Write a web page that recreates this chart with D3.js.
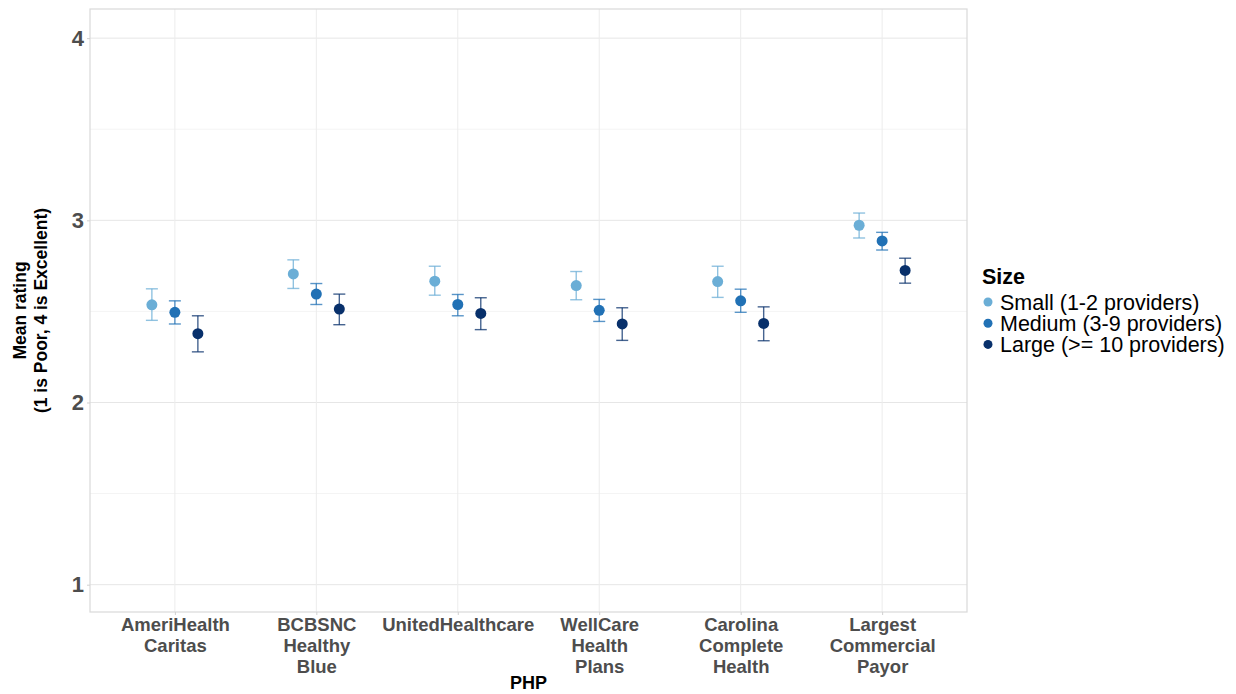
<!DOCTYPE html>
<html>
<head>
<meta charset="utf-8">
<script src="https://d3js.org/d3.v7.min.js"></script>
<style>
  body { margin: 0; background: #fff; }
  svg { font-family: "Liberation Sans", Arial, sans-serif; }
</style>
</head>
<body>
<svg id="chart" width="1236" height="694"></svg>
<script>
// data
var phps = ["AmeriHealth\nCaritas", "BCBSNC\nHealthy\nBlue", "UnitedHealthcare",
            "WellCare\nHealth\nPlans", "Carolina\nComplete\nHealth", "Largest\nCommercial\nPayor"];
var sizes = ["Small (1-2 providers)", "Medium (3-9 providers)", "Large (>= 10 providers)"];
var sizeColors = ["#6baed6", "#2171b5", "#08306b"];
var yTicks = [1, 2, 3, 4];

var smallMean  = [2.536, 2.706, 2.666, 2.642, 2.664, 2.973];
var smallLow   = [2.451, 2.626, 2.589, 2.564, 2.577, 2.903];
var smallHigh  = [2.624, 2.783, 2.748, 2.719, 2.748, 3.040];
var mediumMean = [2.495, 2.595, 2.538, 2.506, 2.558, 2.887];
var mediumLow  = [2.431, 2.538, 2.476, 2.445, 2.495, 2.837];
var mediumHigh = [2.558, 2.653, 2.593, 2.566, 2.622, 2.934];
var largeMean  = [2.378, 2.513, 2.489, 2.431, 2.434, 2.725];
var largeLow   = [2.278, 2.427, 2.400, 2.341, 2.339, 2.655];
var largeHigh  = [2.476, 2.595, 2.575, 2.520, 2.525, 2.792];

var means = [smallMean, mediumMean, largeMean];
var lows = [smallLow, mediumLow, largeLow];
var highs = [smallHigh, mediumHigh, largeHigh];

var rows = [];
sizes.forEach(function (s, si) {
  phps.forEach(function (p, pi) {
    rows.push({ php: p, size: s, si: si, mean: means[si][pi], lo: lows[si][pi], hi: highs[si][pi] });
  });
});

var svg = d3.select("#chart");
var pLeft = 90, pRight = 967, pTop = 9, pBottom = 612;

var x = d3.scalePoint().domain(phps).range([pLeft, pRight]).padding(0.6);
var dodge = d3.scaleBand().domain(sizes).range([-23 * 1.5, 23 * 1.5]).padding(0);
var y = d3.scaleLinear().domain([0.85, 4.16]).range([pBottom, pTop]);
var color = d3.scaleOrdinal().domain(sizes).range(sizeColors);

function dx(d) { return x(d.php) + dodge(d.size) + dodge.bandwidth() / 2; }

// minor gridlines
svg.append("g").selectAll("line")
  .data([1.5, 2.5, 3.5])
  .join("line")
  .attr("x1", pLeft).attr("x2", pRight)
  .attr("y1", function (d) { return y(d); }).attr("y2", function (d) { return y(d); })
  .attr("stroke", "#f4f4f4").attr("stroke-width", 1);

// major gridlines
svg.append("g").selectAll("line")
  .data(yTicks)
  .join("line")
  .attr("x1", pLeft).attr("x2", pRight)
  .attr("y1", function (d) { return y(d); }).attr("y2", function (d) { return y(d); })
  .attr("stroke", "#e6e6e6").attr("stroke-width", 1);

svg.append("g").selectAll("line")
  .data(phps)
  .join("line")
  .attr("x1", function (d) { return x(d); }).attr("x2", function (d) { return x(d); })
  .attr("y1", pTop).attr("y2", pBottom)
  .attr("stroke", "#ececec").attr("stroke-width", 1);

// panel border
svg.append("rect")
  .attr("x", pLeft).attr("y", pTop)
  .attr("width", pRight - pLeft).attr("height", pBottom - pTop)
  .attr("fill", "none").attr("stroke", "#d9d9d9").attr("stroke-width", 1.2);

// y axis
var yAxis = svg.append("g")
  .attr("transform", "translate(" + pLeft + ",0)")
  .call(d3.axisLeft(y).tickValues(yTicks).tickFormat(d3.format("d")).tickSize(3).tickPadding(3));
yAxis.select(".domain").remove();
yAxis.selectAll(".tick line").attr("stroke", "#d0d0d0");
yAxis.selectAll("text")
  .attr("fill", "#4d4d4d").style("font-size", "22px").style("font-weight", "bold");

// x axis, multi-line labels
var xAxis = svg.append("g")
  .attr("transform", "translate(0," + pBottom + ")")
  .call(d3.axisBottom(x).tickSize(3).tickFormat(""));
xAxis.select(".domain").remove();
xAxis.selectAll(".tick line").attr("stroke", "#d0d0d0");
xAxis.selectAll(".tick").append("text")
  .attr("fill", "#4d4d4d")
  .attr("text-anchor", "middle")
  .style("font-size", "18.5px").style("font-weight", "bold")
  .each(function (d) {
    var t = d3.select(this);
    d.split("\n").forEach(function (line, i) {
      t.append("tspan").attr("x", 0).attr("y", 19 + i * 21).text(line);
    });
  });

// axis titles
svg.append("text")
  .attr("x", (pLeft + pRight) / 2).attr("y", 689)
  .attr("text-anchor", "middle")
  .style("font-size", "18px").style("font-weight", "bold")
  .text("PHP");

var yTitle = svg.append("text")
  .attr("transform", "translate(0," + ((pTop + pBottom) / 2) + ") rotate(-90)")
  .attr("text-anchor", "middle")
  .style("font-size", "17.5px").style("font-weight", "bold");
yTitle.append("tspan").attr("x", 0).attr("y", 26).text("Mean rating");
yTitle.append("tspan").attr("x", 0).attr("y", 47).text("(1 is Poor, 4 is Excellent)");

// error bars
var capW = 6;
var eb = svg.append("g").selectAll("g")
  .data(rows)
  .join("g")
  .attr("stroke", function (d) { return color(d.size); })
  .attr("stroke-opacity", 0.75)
  .attr("stroke-width", 1.4);
eb.append("line")
  .attr("x1", dx).attr("x2", dx)
  .attr("y1", function (d) { return y(d.lo); }).attr("y2", function (d) { return y(d.hi); });
eb.append("line")
  .attr("x1", function (d) { return dx(d) - capW; }).attr("x2", function (d) { return dx(d) + capW; })
  .attr("y1", function (d) { return y(d.lo); }).attr("y2", function (d) { return y(d.lo); });
eb.append("line")
  .attr("x1", function (d) { return dx(d) - capW; }).attr("x2", function (d) { return dx(d) + capW; })
  .attr("y1", function (d) { return y(d.hi); }).attr("y2", function (d) { return y(d.hi); });

// points
svg.append("g").selectAll("circle")
  .data(rows)
  .join("circle")
  .attr("cx", dx)
  .attr("cy", function (d) { return y(d.mean); })
  .attr("r", 5.5)
  .attr("fill", function (d) { return color(d.size); });

// legend
var legend = svg.append("g").attr("transform", "translate(982,0)");
legend.append("text")
  .attr("x", 0).attr("y", 284)
  .style("font-size", "21.5px").style("font-weight", "bold")
  .text("Size");
var items = legend.selectAll(".item")
  .data(sizes)
  .join("g")
  .attr("class", "item")
  .attr("transform", function (d, i) { return "translate(0," + (302 + i * 21.2) + ")"; });
items.append("circle")
  .attr("cx", 6).attr("cy", 0).attr("r", 4.5)
  .attr("fill", function (d) { return color(d); });
items.append("text")
  .attr("x", 18).attr("y", 7.5)
  .style("font-size", "21.5px")
  .text(function (d) { return d; });
</script>
</body>
</html>
